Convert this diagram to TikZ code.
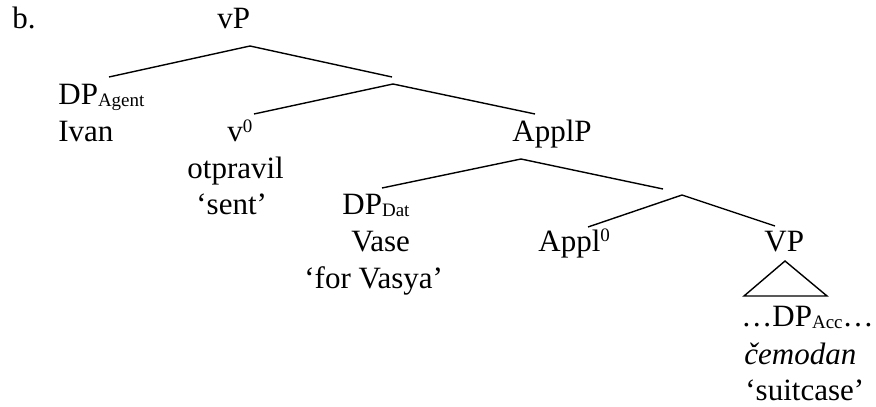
\documentclass[tikz,border=0pt]{standalone}
\usepackage{fontspec}
\setmainfont{Liberation Serif}
% small lowered / raised labels for category indices
\newcommand\lsub[1]{\raisebox{-1pt}{\fontsize{9.5}{10}\selectfont #1}}
\newcommand\lsup[1]{\raisebox{5pt}{\fontsize{9.5}{10}\selectfont #1}}

\begin{document}
\begin{tikzpicture}[x=0.5pt,y=-0.5pt,
  lbl/.style={inner sep=0pt, anchor=base west, font=\fontsize{15.5}{18}\selectfont},
  branch/.style={line width=0.7pt, line cap=butt}]
\useasboundingbox (0,0) rectangle (876,406);

% labels (baselines on a common grid of rows)
\node[lbl] (ex)       at (12,29)  {b.};
\node[lbl] (vp)       at (217,29) {vP};
\node[lbl] (dpag)     at (58,105) {DP\lsub{Agent}};
\node[lbl] (ivan)     at (58,142) {Ivan};
\node[lbl] (v0)       at (227,142) {v\lsup{0}};
\node[lbl] (otpravil) at (187,178) {otpravil};
\node[lbl] (sent)     at (196,214) {‘sent’};
\node[lbl] (applp)    at (512,142) {ApplP};
\node[lbl] (dpdat)    at (342,214) {DP\lsub{Dat}};
\node[lbl] (vase)     at (351,251) {Vase};
\node[lbl] (forvasya) at (304,288) {‘for Vasya’};
\node[lbl] (appl0)    at (538,251) {Appl\lsup{0}};
\node[lbl] (vpsm)     at (764,251) {VP};
\node[lbl] (dpacc)    at (741,326) {…DP\lsub{Acc}…};
\node[lbl] (cemodan)  at (744,364) {\textit{čemodan}};
\node[lbl] (suitcase) at (745,400) {‘suitcase’};

% branch end points
\coordinate (vp-b)      at (250,46);
\coordinate (dpag-t)    at (109,77);
\coordinate (vbar-t)    at (392,77);
\coordinate (vbar-b)    at (393,84);
\coordinate (v0-t)      at (254,114);
\coordinate (applp-t)   at (535,114);
\coordinate (applp-b)   at (521,159);
\coordinate (dpdat-t)   at (382,188);
\coordinate (applbar-t) at (663,189);
\coordinate (applbar-b) at (682,195);
\coordinate (appl0-t)   at (588,227);
\coordinate (vpsm-t)    at (775,226);
\coordinate (tri-top)   at (785,261);
\coordinate (tri-l)     at (744,296);
\coordinate (tri-r)     at (827,296);

% branches
\draw[branch] (dpag-t) -- (vp-b) -- (vbar-t);
\draw[branch] (v0-t) -- (vbar-b) -- (applp-t);
\draw[branch] (dpdat-t) -- (applp-b) -- (applbar-t);
\draw[branch] (appl0-t) -- (applbar-b) -- (vpsm-t);
\draw[branch, line join=miter] (tri-top) -- (tri-l) -- (tri-r) -- cycle;
\end{tikzpicture}
\end{document}
